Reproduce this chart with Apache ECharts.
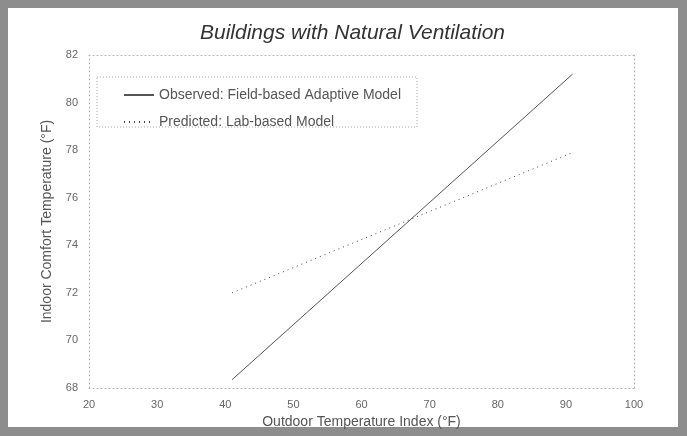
<!DOCTYPE html>
<html>
<head>
<meta charset="utf-8">
<script src="https://cdn.jsdelivr.net/npm/echarts@6/dist/echarts.min.js"></script>
<style>
  html, body { margin: 0; padding: 0; }
  #myChart { width: 687px; height: 436px; }
</style>
</head>
<body>
<div id="myChart"></div>
<script>
// line end points (outdoor temp °F, comfort temp °F)
var observedX = [41, 91];
var observedY = [68.35, 81.2];
var predictedX = [41, 91];
var predictedY = [72.0, 77.9];

var seriesNames = ['Observed: Field-based Adaptive Model', 'Predicted: Lab-based Model'];

function pairs(xs, ys) {
  var out = [];
  xs.forEach(function (v, i) { out.push([v, ys[i]]); });
  return out;
}

var frameLine = { show: true, lineStyle: { color: '#b0b0b0', type: [1, 3] } };

var myChart = echarts.init(document.getElementById('myChart'));
myChart.setOption({
  backgroundColor: '#8d8d8d',
  textStyle: { fontFamily: 'Liberation Sans' },
  animation: false,
  title: {
    text: 'Buildings with Natural Ventilation',
    left: 195,
    top: 18,
    textStyle: { fontSize: 21, fontStyle: 'italic', fontWeight: 'normal', color: '#333' }
  },
  graphic: [
    { type: 'rect', z: -10, shape: { x: 8, y: 8, width: 670, height: 419 }, style: { fill: '#fff' } },
    { type: 'rect', z: 1, shape: { x: 97, y: 77, width: 320, height: 50 },
      style: { fill: 'none', stroke: '#aaa', lineWidth: 1, lineDash: [1, 2] } }
  ],
  legend: {
    orient: 'vertical',
    left: 118,
    top: 83,
    itemGap: 13,
    itemWidth: 30,
    itemHeight: 14,
    itemStyle: { opacity: 0 },
    textStyle: { fontSize: 14, color: '#555' },
    data: seriesNames
  },
  grid: { left: 89, right: 53, top: 55, bottom: 48 },
  xAxis: [{
    type: 'value',
    min: 20, max: 100, interval: 10,
    name: 'Outdoor Temperature Index (°F)',
    nameLocation: 'middle',
    nameGap: 27,
    nameTextStyle: { fontSize: 14, color: '#555' },
    axisLine: frameLine,
    axisTick: { show: false },
    axisLabel: { fontSize: 11, color: '#666', margin: 11 },
    splitLine: { show: false }
  }, {
    type: 'value', position: 'top',
    min: 20, max: 100,
    axisLine: frameLine,
    axisTick: { show: false },
    axisLabel: { show: false },
    splitLine: { show: false }
  }],
  yAxis: [{
    type: 'value',
    min: 68, max: 82, interval: 2,
    name: 'Indoor Comfort Temperature (°F)',
    nameLocation: 'middle',
    nameGap: 35,
    nameTextStyle: { fontSize: 14, color: '#555' },
    axisLine: frameLine,
    axisTick: { show: false },
    axisLabel: { fontSize: 11, color: '#666', margin: 11 },
    splitLine: { show: false }
  }, {
    type: 'value', position: 'right',
    min: 68, max: 82,
    axisLine: frameLine,
    axisTick: { show: false },
    axisLabel: { show: false },
    splitLine: { show: false }
  }],
  series: [
    {
      name: seriesNames[0],
      type: 'line',
      symbol: 'none',
      data: pairs(observedX, observedY),
      itemStyle: { color: '#555' },
      lineStyle: { color: '#555', width: 1 }
    },
    {
      name: seriesNames[1],
      type: 'line',
      symbol: 'none',
      data: pairs(predictedX, predictedY),
      itemStyle: { color: '#444' },
      lineStyle: { color: '#444', width: 1, type: [1, 4] }
    }
  ]
});
</script>
</body>
</html>
